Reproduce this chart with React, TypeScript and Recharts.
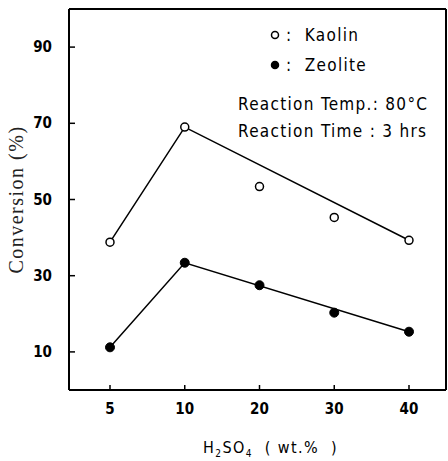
import { LineChart, Line, XAxis, YAxis, Legend } from 'recharts'

const categories = ['5', '10', '20', '30', '40']
const kaolinPoints = [38.8, 69.0, 53.4, 45.3, 39.3]
const kaolinLine = [38.8, 69.0, null, null, 39.3]
const zeolitePoints = [11.2, 33.4, 27.5, 20.3, 15.3]
const zeoliteLine = [11.2, 33.4, null, null, 15.3]
const yTicks = [10, 30, 50, 70, 90]
const legendItems = [
  { name: 'Kaolin', filled: false },
  { name: 'Zeolite', filled: true },
]
const notes = ['Reaction Temp.: 80°C', 'Reaction Time : 3 hrs']

const FONT = "'DejaVu Sans Condensed', 'DejaVu Sans', sans-serif"
const Y_MARGIN = 17
const X_MARGIN = 19

const chartData = categories.map((c, i) => ({
  name: c,
  kaolin: kaolinPoints[i],
  kaolinFit: kaolinLine[i],
  zeolite: zeolitePoints[i],
  zeoliteFit: zeoliteLine[i],
}))

function YTick({ x, y, payload }: any) {
  return (
    <g>
      <line x1={x + Y_MARGIN} x2={x + Y_MARGIN + 6} y1={y} y2={y} stroke="#000" strokeWidth={1.5} />
      <text x={x} y={y} dy={5} textAnchor="end" fontSize={15} fontWeight="bold" fontFamily={FONT} fill="#000">
        {payload.value}
      </text>
    </g>
  )
}

function XTick({ x, y, payload }: any) {
  return (
    <g>
      <line x1={x} x2={x} y1={y - X_MARGIN} y2={y - X_MARGIN - 5} stroke="#000" strokeWidth={1.5} />
      <text x={x} y={y} dy={5} textAnchor="middle" fontSize={15} fontWeight="bold" fontFamily={FONT} fill="#000">
        {payload.value}
      </text>
    </g>
  )
}

function XLabel({ viewBox }: any) {
  const cx = viewBox.x + viewBox.width / 2 + 13
  return (
    <text x={cx} y={viewBox.y + 63} textAnchor="middle" fontSize={16} fontFamily={FONT} fill="#000" letterSpacing={1.4} style={{ whiteSpace: 'pre' }}>
      H<tspan fontSize={10} dy={4}>2</tspan>
      <tspan dy={-4}>SO</tspan>
      <tspan fontSize={10} dy={4}>4</tspan>
      <tspan dy={-4}>{'  ( wt.%  )'}</tspan>
    </text>
  )
}

function YLabel({ viewBox }: any) {
  const x = viewBox.x + 16
  const y = viewBox.y + viewBox.height / 2
  return (
    <text x={x} y={y} transform={`rotate(-90, ${x}, ${y})`} textAnchor="middle" dominantBaseline="central"
      fontSize={20} letterSpacing={1.5} fontFamily="'Liberation Serif', serif" fill="#222">
      Conversion (%)
    </text>
  )
}

function LegendBox() {
  return (
    <div style={{ fontFamily: FONT, fontSize: 17, color: '#000', letterSpacing: 1.3 }}>
      {legendItems.map((item) => (
        <div key={item.name} style={{ display: 'flex', alignItems: 'center', height: 30, marginLeft: 32 }}>
          <svg width={10} height={10} style={{ marginRight: 6 }}>
            <circle cx={5} cy={5} r={3.5} fill={item.filled ? '#000' : '#fff'} stroke="#000" strokeWidth={1.5} />
          </svg>
          <span>:&nbsp;&nbsp;{item.name}</span>
        </div>
      ))}
      <div style={{ height: 14 }} />
      {notes.map((n) => (
        <div key={n} style={{ height: 27, whiteSpace: 'pre' }}>{n}</div>
      ))}
    </div>
  )
}

export default function App() {
  return (
    <div style={{ position: 'absolute', left: 0, top: 0, background: '#fff' }}>
      <LineChart width={448} height={461} data={chartData} margin={{ top: 8, right: 1, bottom: 0, left: 0 }}>
        <XAxis dataKey="name" height={71} padding={{ left: 41, right: 37 }} axisLine={{ stroke: '#000', strokeWidth: 2 }}
          tickLine={false} tickSize={0} tickMargin={X_MARGIN} tick={XTick} interval={0} label={XLabel} />
        <XAxis xAxisId="top" orientation="top" dataKey="name" height={1} tick={false} tickLine={false}
          axisLine={{ stroke: '#000', strokeWidth: 2 }} />
        <YAxis domain={[0, 100]} ticks={yTicks} width={69} axisLine={{ stroke: '#000', strokeWidth: 2 }}
          tickLine={false} tickSize={0} tickMargin={Y_MARGIN} tick={YTick} label={YLabel} />
        <YAxis yAxisId="right" orientation="right" width={1} tick={false} tickLine={false}
          axisLine={{ stroke: '#000', strokeWidth: 2 }} />
        <Legend verticalAlign="middle" align="center" layout="horizontal" content={LegendBox}
          wrapperStyle={{ top: 20, left: 238, width: 210 }} />
        <Line dataKey="kaolinFit" stroke="#000" strokeWidth={1.5} dot={false} connectNulls isAnimationActive={false} legendType="none" />
        <Line dataKey="zeoliteFit" stroke="#000" strokeWidth={1.5} dot={false} connectNulls isAnimationActive={false} legendType="none" />
        <Line dataKey="kaolin" stroke="none" dot={{ r: 4, fill: '#fff', stroke: '#000', strokeWidth: 1.5 }} activeDot={false} isAnimationActive={false} />
        <Line dataKey="zeolite" stroke="none" dot={{ r: 4.5, fill: '#000', stroke: '#000', strokeWidth: 1 }} activeDot={false} isAnimationActive={false} />
      </LineChart>
    </div>
  )
}
